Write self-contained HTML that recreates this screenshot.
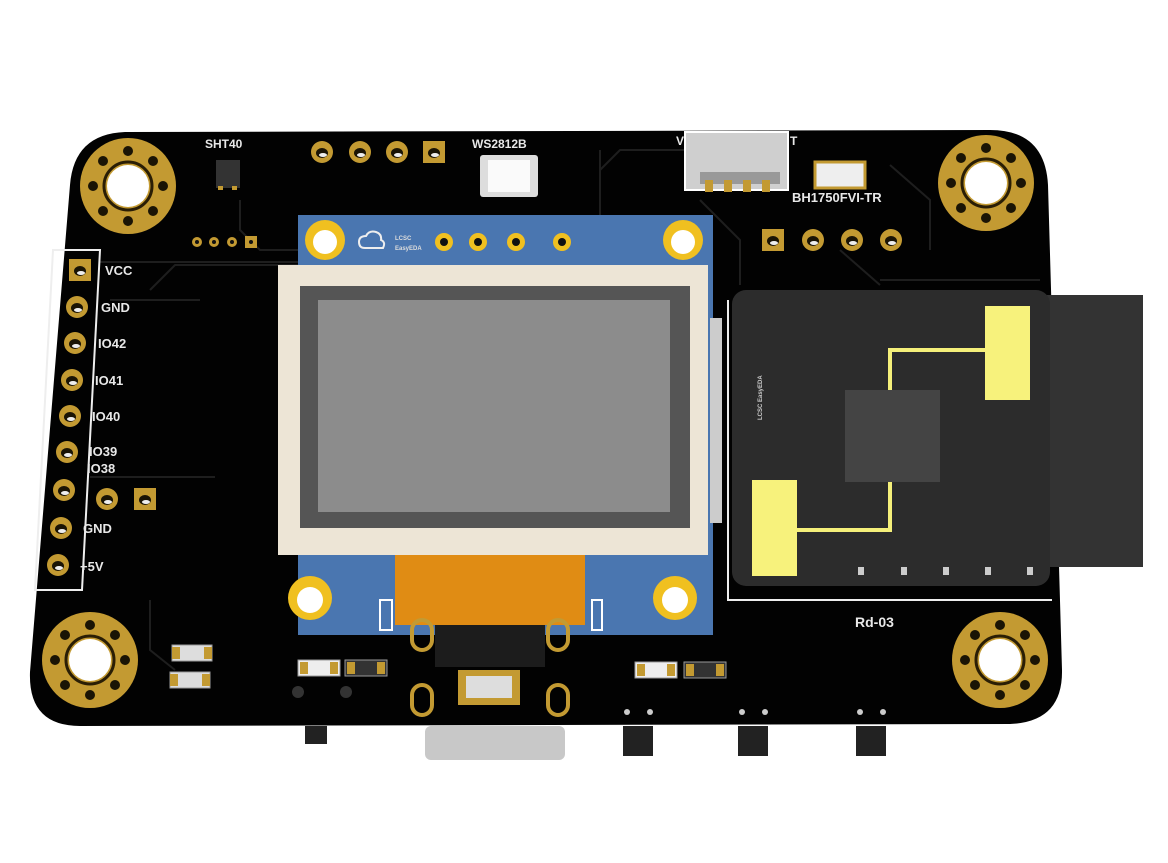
<!DOCTYPE html>
<html><head><meta charset="utf-8"><style>
html,body{margin:0;padding:0;background:#fff;}
svg{display:block;}
text{font-family:"Liberation Sans",sans-serif;font-weight:bold;fill:#e8e8e8;}
</style></head><body>
<svg width="1168" height="863" viewBox="0 0 1168 863" xmlns="http://www.w3.org/2000/svg">
<defs>
<g id="mh">
<circle r="48" fill="#c39a32"/>
<circle r="21" fill="#fff"/>
<circle r="24" fill="none" stroke="#2a1e05" stroke-width="3"/>
<g fill="#1a1405">
<circle cx="0" cy="-35" r="5"/><circle cx="25" cy="-25" r="5"/><circle cx="35" cy="0" r="5"/><circle cx="25" cy="25" r="5"/>
<circle cx="0" cy="35" r="5"/><circle cx="-25" cy="25" r="5"/><circle cx="-35" cy="0" r="5"/><circle cx="-25" cy="-25" r="5"/>
</g>
</g>
<g id="pin"><circle r="11" fill="#c39a32"/><ellipse cy="1" rx="6" ry="5" fill="#1a1405"/><ellipse cx="1" cy="3" rx="4" ry="2" fill="#eee"/></g>
<g id="spin"><rect x="-11" y="-11" width="22" height="22" fill="#c39a32"/><ellipse cy="1" rx="6" ry="5" fill="#1a1405"/><ellipse cx="1" cy="3" rx="4" ry="2" fill="#eee"/></g>
</defs>

<!-- board -->
<path d="M125,132 L990,130 Q1045,130 1048,185 L1062,670 Q1063,722 1010,724 L80,726 Q28,726 30,672 L70,185 Q74,134 125,132 Z" fill="#020202"/>
<!-- traces -->
<g stroke="#1e1e1e" stroke-width="2" fill="none">
<path d="M100,262 H300"/><path d="M150,290 L175,265 H300"/><path d="M110,300 H200"/>
<path d="M240,200 V230 L260,250 H300"/><path d="M600,170 L620,150 H700"/><path d="M700,200 L740,240 V285"/>
<path d="M880,280 H1040"/><path d="M840,250 L880,285"/><path d="M90,477 H215"/><path d="M150,600 V650 L175,670"/>
<path d="M600,150 V220"/><path d="M890,165 L930,200 V250"/>
</g>

<use href="#mh" x="128" y="186"/>
<use href="#mh" x="986" y="183"/>
<use href="#mh" x="90" y="660"/>
<use href="#mh" x="1000" y="660"/>

<!-- SHT40 -->
<text x="205" y="148" font-size="12">SHT40</text>
<rect x="216" y="160" width="24" height="28" fill="#333"/>
<rect x="218" y="186" width="5" height="4" fill="#c39a32"/><rect x="232" y="186" width="5" height="4" fill="#c39a32"/>
<g><circle cx="197" cy="242" r="5" fill="#c39a32"/><circle cx="214" cy="242" r="5" fill="#c39a32"/><circle cx="232" cy="242" r="5" fill="#c39a32"/><rect x="245" y="236" width="12" height="12" fill="#c39a32"/>
<circle cx="197" cy="242" r="2" fill="#111"/><circle cx="214" cy="242" r="2" fill="#111"/><circle cx="232" cy="242" r="2" fill="#111"/><circle cx="251" cy="242" r="2" fill="#111"/></g>

<!-- top pins -->
<use href="#pin" x="322" y="152"/><use href="#pin" x="360" y="152"/><use href="#pin" x="397" y="152"/><use href="#spin" x="434" y="152"/>
<!-- WS2812B -->
<text x="472" y="148" font-size="12">WS2812B</text>
<rect x="480" y="155" width="58" height="42" rx="3" fill="#ddd"/><rect x="488" y="160" width="42" height="32" fill="#fafafa"/>
<!-- connector -->
<text x="676" y="145" font-size="12">V</text><text x="790" y="145" font-size="12">T</text>
<rect x="685" y="132" width="103" height="58" fill="#cfcfcf" stroke="#fff" stroke-width="2"/>
<rect x="700" y="172" width="80" height="12" fill="#999"/>
<g fill="#c39a32"><rect x="705" y="180" width="8" height="12"/><rect x="724" y="180" width="8" height="12"/><rect x="743" y="180" width="8" height="12"/><rect x="762" y="180" width="8" height="12"/></g>
<!-- BH1750 -->
<rect x="815" y="162" width="50" height="26" fill="#eee" stroke="#c39a32" stroke-width="3"/>
<text x="792" y="202" font-size="13">BH1750FVI-TR</text>
<use href="#spin" x="773" y="240"/><use href="#pin" x="813" y="240"/><use href="#pin" x="852" y="240"/><use href="#pin" x="891" y="240"/>

<!-- left header -->
<path d="M35,590 L53,250 H100 L82,590 Z" fill="none" stroke="#eee" stroke-width="2"/>
<use href="#spin" x="80" y="270"/>
<use href="#pin" x="77" y="307"/><use href="#pin" x="75" y="343"/><use href="#pin" x="72" y="380"/><use href="#pin" x="70" y="416"/>
<use href="#pin" x="67" y="452"/><use href="#pin" x="64" y="490"/><use href="#pin" x="61" y="528"/><use href="#pin" x="58" y="565"/>
<g font-size="13"><text x="105" y="275">VCC</text><text x="101" y="312">GND</text><text x="98" y="348">IO42</text><text x="95" y="385">IO41</text>
<text x="92" y="421">IO40</text><text x="89" y="456">IO39</text><text x="87" y="473">IO38</text><text x="83" y="533">GND</text><text x="80" y="571">+5V</text></g>
<use href="#pin" x="107" y="499"/><use href="#spin" x="145" y="499"/>

<!-- small SMD left-bottom -->
<g><rect x="172" y="645" width="40" height="16" fill="#ddd" stroke="#999"/><rect x="172" y="647" width="8" height="12" fill="#c39a32"/><rect x="204" y="647" width="8" height="12" fill="#c39a32"/>
<rect x="170" y="672" width="40" height="16" fill="#ddd" stroke="#999"/><rect x="170" y="674" width="8" height="12" fill="#c39a32"/><rect x="202" y="674" width="8" height="12" fill="#c39a32"/></g>
<g><rect x="298" y="660" width="42" height="16" fill="#eee" stroke="#999"/><rect x="300" y="662" width="8" height="12" fill="#c39a32"/><rect x="330" y="662" width="8" height="12" fill="#c39a32"/>
<rect x="345" y="660" width="42" height="16" fill="#333" stroke="#999"/><rect x="347" y="662" width="8" height="12" fill="#c39a32"/><rect x="377" y="662" width="8" height="12" fill="#c39a32"/></g>
<g><rect x="635" y="662" width="42" height="16" fill="#eee" stroke="#999"/><rect x="637" y="664" width="8" height="12" fill="#c39a32"/><rect x="667" y="664" width="8" height="12" fill="#c39a32"/>
<rect x="684" y="662" width="42" height="16" fill="#333" stroke="#999"/><rect x="686" y="664" width="8" height="12" fill="#c39a32"/><rect x="716" y="664" width="8" height="12" fill="#c39a32"/></g>
<circle cx="298" cy="692" r="6" fill="#333"/><circle cx="346" cy="692" r="6" fill="#333"/>

<!-- OLED module -->
<rect x="298" y="215" width="415" height="420" fill="#4a76b0"/>
<circle cx="325" cy="240" r="20" fill="#f0c020"/><circle cx="325" cy="242" r="12" fill="#fff"/>
<circle cx="683" cy="240" r="20" fill="#f0c020"/><circle cx="683" cy="242" r="12" fill="#fff"/>
<circle cx="310" cy="598" r="22" fill="#f0c020"/><circle cx="310" cy="600" r="13" fill="#fff"/>
<circle cx="675" cy="598" r="22" fill="#f0c020"/><circle cx="675" cy="600" r="13" fill="#fff"/>
<g><circle cx="444" cy="242" r="9" fill="#f0c020"/><circle cx="478" cy="242" r="9" fill="#f0c020"/><circle cx="516" cy="242" r="9" fill="#f0c020"/><circle cx="562" cy="242" r="9" fill="#f0c020"/>
<circle cx="444" cy="242" r="4" fill="#111"/><circle cx="478" cy="242" r="4" fill="#111"/><circle cx="516" cy="242" r="4" fill="#111"/><circle cx="562" cy="242" r="4" fill="#111"/></g>
<text x="395" y="240" font-size="6" style="fill:#ddd">LCSC</text><text x="395" y="250" font-size="6" style="fill:#ddd">EasyEDA</text>
<path d="M365,248 q-6,0 -6,-6 q0,-6 7,-6 q3,-6 10,-4 q6,2 5,8 q5,2 2,8 Z" fill="none" stroke="#eee" stroke-width="2"/>
<rect x="710" y="318" width="12" height="205" fill="#ccc"/>
<rect x="278" y="265" width="430" height="290" fill="#ede5d6"/>
<rect x="300" y="286" width="390" height="242" fill="#555"/>
<rect x="318" y="300" width="352" height="212" fill="#8c8c8c"/>
<rect x="395" y="555" width="190" height="70" fill="#e08c14"/>
<rect x="380" y="600" width="12" height="30" fill="none" stroke="#fff" stroke-width="2"/>
<rect x="592" y="600" width="10" height="30" fill="none" stroke="#fff" stroke-width="2"/>
<rect x="435" y="625" width="110" height="42" fill="#1c1c1c"/>
<rect x="412" y="620" width="20" height="30" rx="10" fill="none" stroke="#c39a32" stroke-width="4"/>
<rect x="548" y="620" width="20" height="30" rx="10" fill="none" stroke="#c39a32" stroke-width="4"/>
<rect x="412" y="685" width="20" height="30" rx="10" fill="none" stroke="#c39a32" stroke-width="4"/>
<rect x="548" y="685" width="20" height="30" rx="10" fill="none" stroke="#c39a32" stroke-width="4"/>
<rect x="458" y="670" width="62" height="35" fill="#c39a32"/><rect x="466" y="676" width="46" height="22" fill="#ddd"/>

<!-- Rd-03 -->
<rect x="1040" y="295" width="103" height="272" fill="#333"/>
<path d="M728,300 V600 H1052" fill="none" stroke="#eee" stroke-width="2"/>
<rect x="732" y="290" width="318" height="296" rx="14" fill="#2c2c2c"/>
<rect x="845" y="390" width="95" height="92" fill="#444"/>
<path d="M1005,350 H890 V390" fill="none" stroke="#f5f07a" stroke-width="4"/>
<path d="M775,530 H890 V482" fill="none" stroke="#f5f07a" stroke-width="4"/>
<rect x="985" y="306" width="45" height="94" fill="#f7f27c"/>
<rect x="752" y="480" width="45" height="96" fill="#f7f27c"/>
<g fill="#ccc"><rect x="858" y="567" width="6" height="8"/><rect x="901" y="567" width="6" height="8"/><rect x="943" y="567" width="6" height="8"/><rect x="985" y="567" width="6" height="8"/><rect x="1027" y="567" width="6" height="8"/></g>
<text x="855" y="627" font-size="14">Rd-03</text>
<text x="762" y="420" font-size="6" transform="rotate(-90 762 420)" style="fill:#ccc">LCSC EasyEDA</text>

<!-- bottom components -->
<rect x="425" y="726" width="140" height="34" rx="6" fill="#c8c8c8"/>
<rect x="305" y="726" width="22" height="18" fill="#222"/>
<g fill="#222"><rect x="623" y="726" width="30" height="30"/><rect x="738" y="726" width="30" height="30"/><rect x="856" y="726" width="30" height="30"/></g>
<g fill="#ccc"><circle cx="627" cy="712" r="3"/><circle cx="650" cy="712" r="3"/><circle cx="742" cy="712" r="3"/><circle cx="765" cy="712" r="3"/><circle cx="860" cy="712" r="3"/><circle cx="883" cy="712" r="3"/></g>
</svg>
</body></html>
